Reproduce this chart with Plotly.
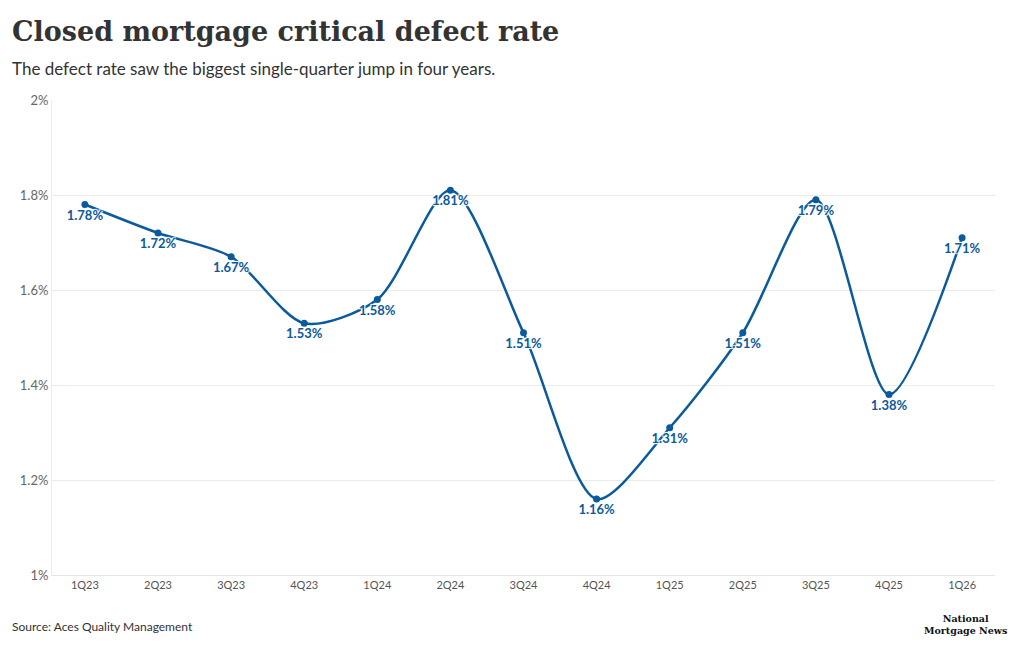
import plotly.graph_objects as go

quarters = ["1Q23","2Q23","3Q23","4Q23","1Q24","2Q24","3Q24","4Q24","1Q25","2Q25","3Q25","4Q25","1Q26"]
rates = [1.78,1.72,1.67,1.53,1.58,1.81,1.51,1.16,1.31,1.51,1.79,1.38,1.71]
labels = [f"{v:.2f}%" for v in rates]
yticks = [1,1.2,1.4,1.6,1.8,2]
yticklabels = ["1%","1.2%","1.4%","1.6%","1.8%","2%"]

color = "#0a5a9c"
fig = go.Figure(go.Scatter(
    x=quarters, y=rates, mode="lines+markers+text",
    line=dict(shape="spline", smoothing=0.8, color=color, width=2.5),
    marker=dict(size=7, color=color),
    text=labels, textposition="bottom center",
    textfont=dict(family="Lato", size=13, color=color, weight="bold",
                  shadow="1px 1px 1px white, -1px -1px 1px white, 1px -1px 1px white, -1px 1px 1px white"),
    hoverinfo="skip", cliponaxis=False))

fig.update_layout(
    width=1004, height=632, margin=dict(l=44, r=17, t=92, b=65),
    paper_bgcolor="white", plot_bgcolor="white", showlegend=False,
    font=dict(family="Lato", color="#555"),
    xaxis=dict(showgrid=False, showline=True, linecolor="#e5e5e5", ticks="",
               tickfont=dict(size=11, color="#555"), range=[-0.45, 12.45]),
    yaxis=dict(range=[1, 2], tickvals=yticks, ticktext=yticklabels, gridcolor="#ebebeb",
               zeroline=False, showline=True, linecolor="#ebebeb",
               tickfont=dict(size=13, color="#666")),
)
fig.add_annotation(text="<b>Closed mortgage critical defect rate</b>", xref="paper", yref="paper",
                   x=0, xshift=-42, y=1, yshift=86, xanchor="left", yanchor="top", showarrow=False,
                   font=dict(family="DejaVu Serif", size=27, color="#333"))
fig.add_annotation(text="The defect rate saw the biggest single-quarter jump in four years.", xref="paper", yref="paper",
                   x=0, xshift=-42, y=1, yshift=44, xanchor="left", yanchor="top", showarrow=False,
                   font=dict(family="Lato", size=17, color="#333"))
fig.add_annotation(text="Source: Aces Quality Management", xref="paper", yref="paper",
                   x=0, xshift=-42, y=0, yshift=-42, xanchor="left", yanchor="top", showarrow=False,
                   font=dict(family="Lato", size=12, color="#333"))
fig.add_annotation(text="<b>National<br>Mortgage News</b>", xref="paper", yref="paper",
                   x=1, xshift=14, y=0, yshift=-36, xanchor="right", yanchor="top", showarrow=False, align="center",
                   font=dict(family="DejaVu Serif", size=9.5, color="#111"))
fig.write_html("out.html")
